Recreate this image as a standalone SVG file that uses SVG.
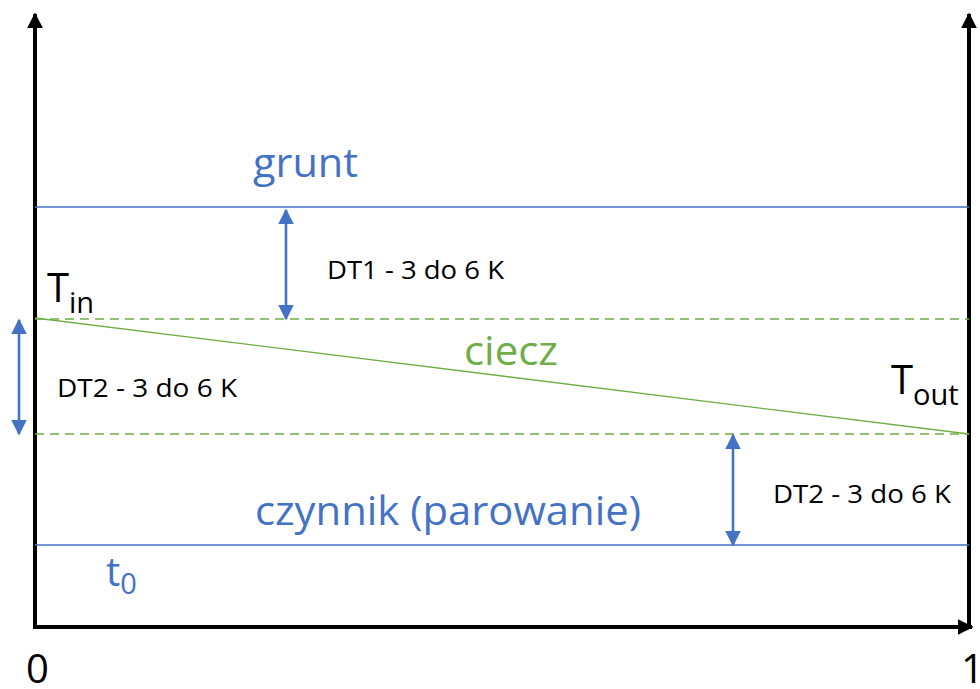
<svg xmlns="http://www.w3.org/2000/svg" width="980" height="689" viewBox="0 0 980 689">
<defs>
<marker id="ah" viewBox="0 0 10 10" refX="9" refY="5" markerWidth="4" markerHeight="4" orient="auto-start-reverse" markerUnits="strokeWidth"><path d="M0,0 L10,5 L0,10 z" fill="#000"/></marker>
<marker id="bh" viewBox="0 0 10 10" refX="9" refY="5" markerWidth="6" markerHeight="6" orient="auto-start-reverse" markerUnits="strokeWidth"><path d="M0,0 L10,5 L0,10 z" fill="#4472C4"/></marker>
</defs>
<style>
.ax{stroke:#000;stroke-width:4;fill:none}
.bl{stroke:#4472C4;stroke-width:1.3;fill:none}
.gd{stroke:#70AD47;stroke-width:1.5;stroke-dasharray:9,6;fill:none}
.dbl{stroke:#4472C4;stroke-width:2.6;fill:none;marker-start:url(#bh);marker-end:url(#bh)}
text{font-family:"Open Sans","Noto Sans",sans-serif}
.big{font-size:41px}
.sm{font-size:26px;fill:#000}
.blue{fill:#4472C4}
.green{fill:#70AD47}
</style>
<g id="connectors">
<line class="ax" x1="35" y1="629" x2="35" y2="14" marker-end="url(#ah)"/>
<line class="ax" x1="969" y1="629" x2="969" y2="14" marker-end="url(#ah)"/>
<line class="ax" x1="33" y1="627" x2="972" y2="627" marker-end="url(#ah)"/>
<line class="bl" x1="35" y1="207" x2="969" y2="207"/>
<line class="gd" x1="35" y1="319" x2="969" y2="319"/>
<line class="gd" x1="35" y1="434" x2="969" y2="434"/>
<line class="bl" x1="35" y1="545" x2="969" y2="545"/>
<line x1="35" y1="318" x2="969" y2="434" stroke="#70AD47" stroke-width="1.3"/>
<line class="dbl" x1="286" y1="210" x2="286" y2="319"/>
<line class="dbl" x1="19" y1="320" x2="19" y2="434"/>
<line class="dbl" x1="733" y1="435" x2="733" y2="545"/>
</g>
<g id="grunt"><text class="big blue" x="253" y="177" textLength="105" lengthAdjust="spacingAndGlyphs">grunt</text></g>
<g id="dt1"><text class="sm" x="327" y="279" textLength="177" lengthAdjust="spacingAndGlyphs">DT1 - 3 do 6 K</text></g>
<g id="tin"><text x="47" y="302" font-size="40">T<tspan font-size="29" dy="11">in</tspan></text></g>
<g id="ciecz"><text class="big green" x="464" y="365" textLength="94" lengthAdjust="spacingAndGlyphs">ciecz</text></g>
<g id="dt2a"><text class="sm" x="57" y="397" textLength="180" lengthAdjust="spacingAndGlyphs">DT2 - 3 do 6 K</text></g>
<g id="tout"><text x="891" y="394" font-size="40">T<tspan font-size="29" dy="11">out</tspan></text></g>
<g id="czynnik"><text class="big blue" x="255" y="525" textLength="386" lengthAdjust="spacingAndGlyphs">czynnik (parowanie)</text></g>
<g id="dt2b"><text class="sm" x="773" y="503" textLength="178" lengthAdjust="spacingAndGlyphs">DT2 - 3 do 6 K</text></g>
<g id="t0"><text class="blue" x="106" y="586" font-size="40">t<tspan font-size="29" dy="8">0</tspan></text></g>
<g id="zero"><text x="26" y="683" font-size="40">0</text></g>
<g id="one"><text x="961" y="683" font-size="40">1</text></g>
</svg>
